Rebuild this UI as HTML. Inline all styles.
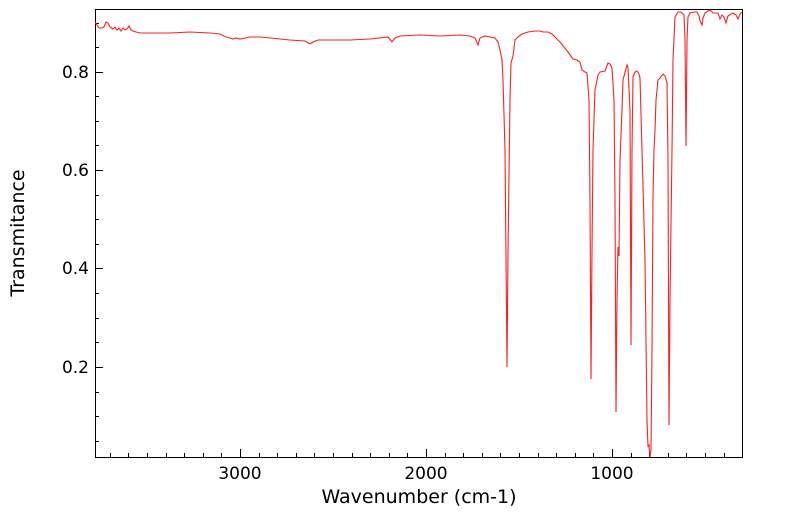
<!DOCTYPE html>
<html><head><style>body{margin:0;background:#fff}</style></head><body>
<svg width="799" height="516" xmlns="http://www.w3.org/2000/svg" font-family="DejaVu Sans, Liberation Sans, sans-serif">
<rect width="799" height="516" fill="#fff"/>
<g stroke="#000" stroke-width="1">
<rect x="95.5" y="9.5" width="647" height="448" fill="none"/>
<path d="M95 72.5h8M95 170.5h8M95 268.5h8M95 367.5h8M95 23.5h4M95 47.5h4M95 96.5h4M95 121.5h4M95 145.5h4M95 195.5h4M95 219.5h4M95 244.5h4M95 293.5h4M95 318.5h4M95 342.5h4M95 392.5h4M95 416.5h4M95 441.5h4"/>
<path d="M240.5 457v-8M426.5 457v-8M612.5 457v-8"/>
<path d="M110.5 457v-4M128.5 457v-4M147.5 457v-4M166.5 457v-4M184.5 457v-4M203.5 457v-4M221.5 457v-4M259.5 457v-4M277.5 457v-4M296.5 457v-4M314.5 457v-4M333.5 457v-4M352.5 457v-4M370.5 457v-4M389.5 457v-4M407.5 457v-4M445.5 457v-4M463.5 457v-4M482.5 457v-4M500.5 457v-4M519.5 457v-4M538.5 457v-4M556.5 457v-4M575.5 457v-4M593.5 457v-4M631.5 457v-4M649.5 457v-4M668.5 457v-4M686.5 457v-4M705.5 457v-4M724.5 457v-4"/>
</g>
<polyline fill="none" stroke="#ff2020" stroke-width="1.1" points="95,22 97,25 99,28 102,28 104,27 106,22 108,23 110,27 113,29 115,27 117,30 119,28 121,31 123,28 125,30 127,29 129,26 131,30 133,31 136,32 140,33 150,33 170,33 190,32 210,33 220,34 226,37 230,38 233,39 236,38 240,39 245,38 250,37 260,37 270,38 290,40 305,41 310,44 313,42 318,40 330,40 350,40 370,39 388,37 392,42 395,38 400,36 420,35 440,36 460,35 470,36 475,38 478,45 480,38 485,36 490,37 495,38 498,42 500,50 502,60 503,80 505,150 507,367 508,250 510,100 511,63 513,56 515,40 518,37 522,34 528,32 535,31 540,31 543,32 548,32 552,34 560,42 568,52 573,59 577,60 580,62 582,70 585,72 587,73 589,100 590,200 591,379 592,250 593,150 595,90 598,75 600,72 605,71 608,63 610,64 612,68 614,100 615,200 616,412 617,300 618,247 619,256 620,160 622,110 623,80 627,65 628,68 630,110 631,345 632,150 633,77 635,72 637,71 639,74 640,78 642,150 645,260 647,420 648,447 649,445 650,457 651,450 652,350 653,197 654,150 655,130 656,100 658,80 660,78 663,74 665,76 667,83 668,160 669,425 670,300 672,150 673,60 675,17 678,12 681,12 684,15 685,40 686,146 687,40 688,17 690,13 695,12 697,12 699,16 700,21 702,25 703,18 705,13 708,11 710,10 713,13 716,13 718,13 720,19 722,15 724,17 726,23 728,16 731,14 733,13 736,15 738,19 740,14 742,12"/>
<g font-size="17" fill="#000">
<text x="89" y="78" text-anchor="end">0.8</text>
<text x="89" y="176" text-anchor="end">0.6</text>
<text x="89" y="274" text-anchor="end">0.4</text>
<text x="89" y="373" text-anchor="end">0.2</text>
<text x="240" y="479" text-anchor="middle">3000</text>
<text x="426" y="479" text-anchor="middle">2000</text>
<text x="612" y="479" text-anchor="middle">1000</text>
<text x="419" y="503" text-anchor="middle" font-size="19">Wavenumber (cm-1)</text>
<text transform="translate(24,233) rotate(-90)" text-anchor="middle" font-size="19">Transmitance</text>
</g>
</svg>
</body></html>
